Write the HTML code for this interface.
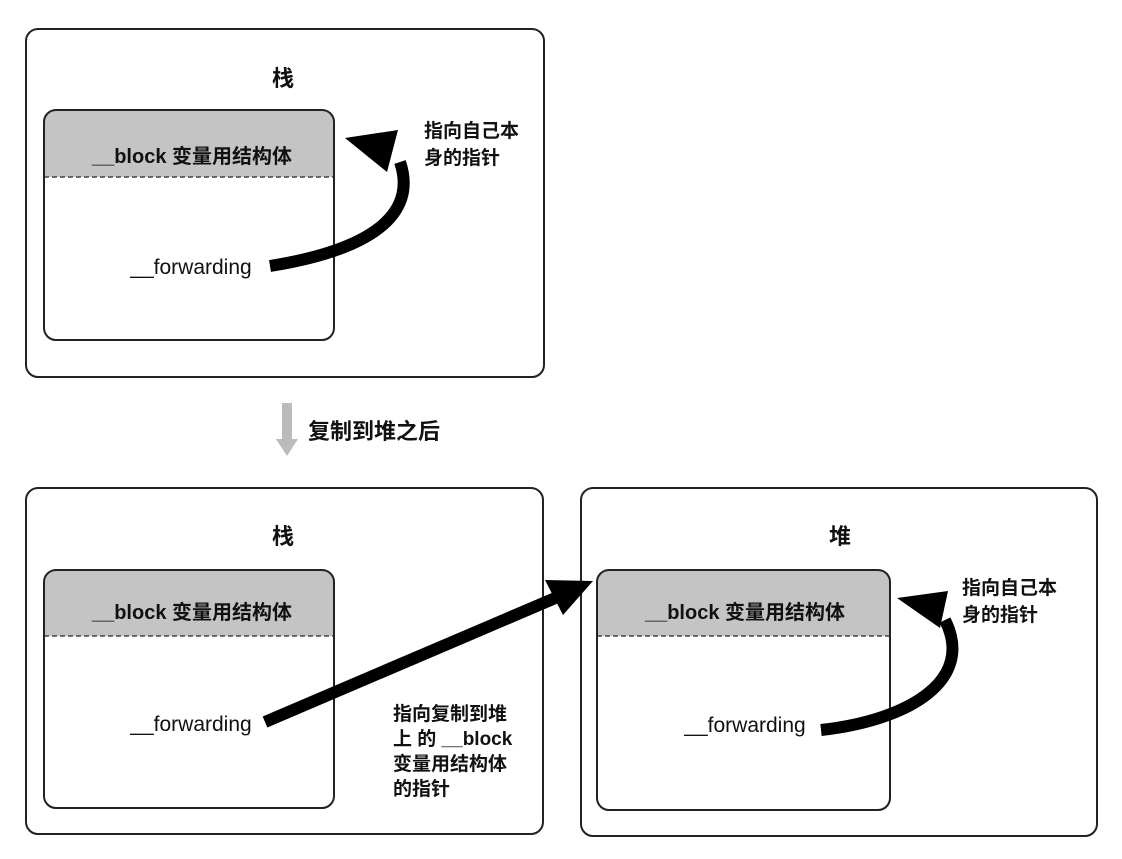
<!DOCTYPE html>
<html><head><meta charset="utf-8"><style>
html,body{margin:0;padding:0;background:#fff;}
svg text{font-family:"Liberation Sans","Noto Sans CJK SC",sans-serif;fill:#111;}
</style></head><body>
<svg width="1122" height="854" viewBox="0 0 1122 854" xmlns="http://www.w3.org/2000/svg">
<!-- top -->
<rect x="26" y="29" width="518" height="348" rx="12" fill="#fff" stroke="#222" stroke-width="2"/>
<text x="283" y="86" font-size="22" font-weight="bold" text-anchor="middle">栈</text>
<path d="M44 177 V122 a12 12 0 0 1 12 -12 H322 a12 12 0 0 1 12 12 V177 Z" fill="#c4c4c4"/>
<line x1="44" y1="177" x2="334" y2="177" stroke="#444" stroke-width="1.5" stroke-dasharray="5,3"/>
<rect x="44" y="110" width="290" height="230" rx="12" fill="none" stroke="#222" stroke-width="2"/>
<text x="192" y="163" font-size="20" font-weight="bold" text-anchor="middle">__block 变量用结构体</text>
<text x="191" y="274" font-size="21" text-anchor="middle">__forwarding</text>
<path d="M270 266 C370 250 418 215 400 162" fill="none" stroke="#000" stroke-width="12"/>
<polygon points="345,138 398,130 387,172" fill="#000"/>
<text x="424" y="137" font-size="19" font-weight="bold">指向自己本</text>
<text x="424" y="164" font-size="19" font-weight="bold">身的指针</text>
<!-- middle -->
<rect x="282" y="403" width="10" height="38" fill="#bbb"/>
<polygon points="276,439 298,439 287,456" fill="#bbb"/>
<text x="308" y="439" font-size="22" font-weight="bold">复制到堆之后</text>
<!-- bottom left -->
<rect x="26" y="488" width="517" height="346" rx="12" fill="#fff" stroke="#222" stroke-width="2"/>
<text x="283" y="544" font-size="22" font-weight="bold" text-anchor="middle">栈</text>
<path d="M44 636 V582 a12 12 0 0 1 12 -12 H322 a12 12 0 0 1 12 12 V636 Z" fill="#c4c4c4"/>
<line x1="44" y1="636" x2="334" y2="636" stroke="#444" stroke-width="1.5" stroke-dasharray="5,3"/>
<rect x="44" y="570" width="290" height="238" rx="12" fill="none" stroke="#222" stroke-width="2"/>
<text x="192" y="619" font-size="20" font-weight="bold" text-anchor="middle">__block 变量用结构体</text>
<text x="191" y="731" font-size="21" text-anchor="middle">__forwarding</text>
<!-- bottom right -->
<rect x="581" y="488" width="516" height="348" rx="12" fill="#fff" stroke="#222" stroke-width="2"/>
<text x="840" y="544" font-size="22" font-weight="bold" text-anchor="middle">堆</text>
<path d="M597 636 V582 a12 12 0 0 1 12 -12 H878 a12 12 0 0 1 12 12 V636 Z" fill="#c4c4c4"/>
<line x1="597" y1="636" x2="890" y2="636" stroke="#444" stroke-width="1.5" stroke-dasharray="5,3"/>
<rect x="597" y="570" width="293" height="240" rx="12" fill="none" stroke="#222" stroke-width="2"/>
<text x="745" y="619" font-size="20" font-weight="bold" text-anchor="middle">__block 变量用结构体</text>
<text x="745" y="732" font-size="21" text-anchor="middle">__forwarding</text>
<path d="M821 730 C910 720 975 680 945 620" fill="none" stroke="#000" stroke-width="12"/>
<polygon points="897,598 948,591 940,628" fill="#000"/>
<text x="962" y="594" font-size="19" font-weight="bold">指向自己本</text>
<text x="962" y="621" font-size="19" font-weight="bold">身的指针</text>
<!-- long arrow -->
<line x1="265" y1="722" x2="560" y2="596" stroke="#000" stroke-width="12"/>
<polygon points="593,581 545,580 563,615" fill="#000"/>
<text x="393" y="720" font-size="19" font-weight="bold">指向复制到堆</text>
<text x="393" y="745" font-size="19" font-weight="bold">上 的 __block</text>
<text x="393" y="770" font-size="19" font-weight="bold">变量用结构体</text>
<text x="393" y="795" font-size="19" font-weight="bold">的指针</text>
</svg>
</body></html>
